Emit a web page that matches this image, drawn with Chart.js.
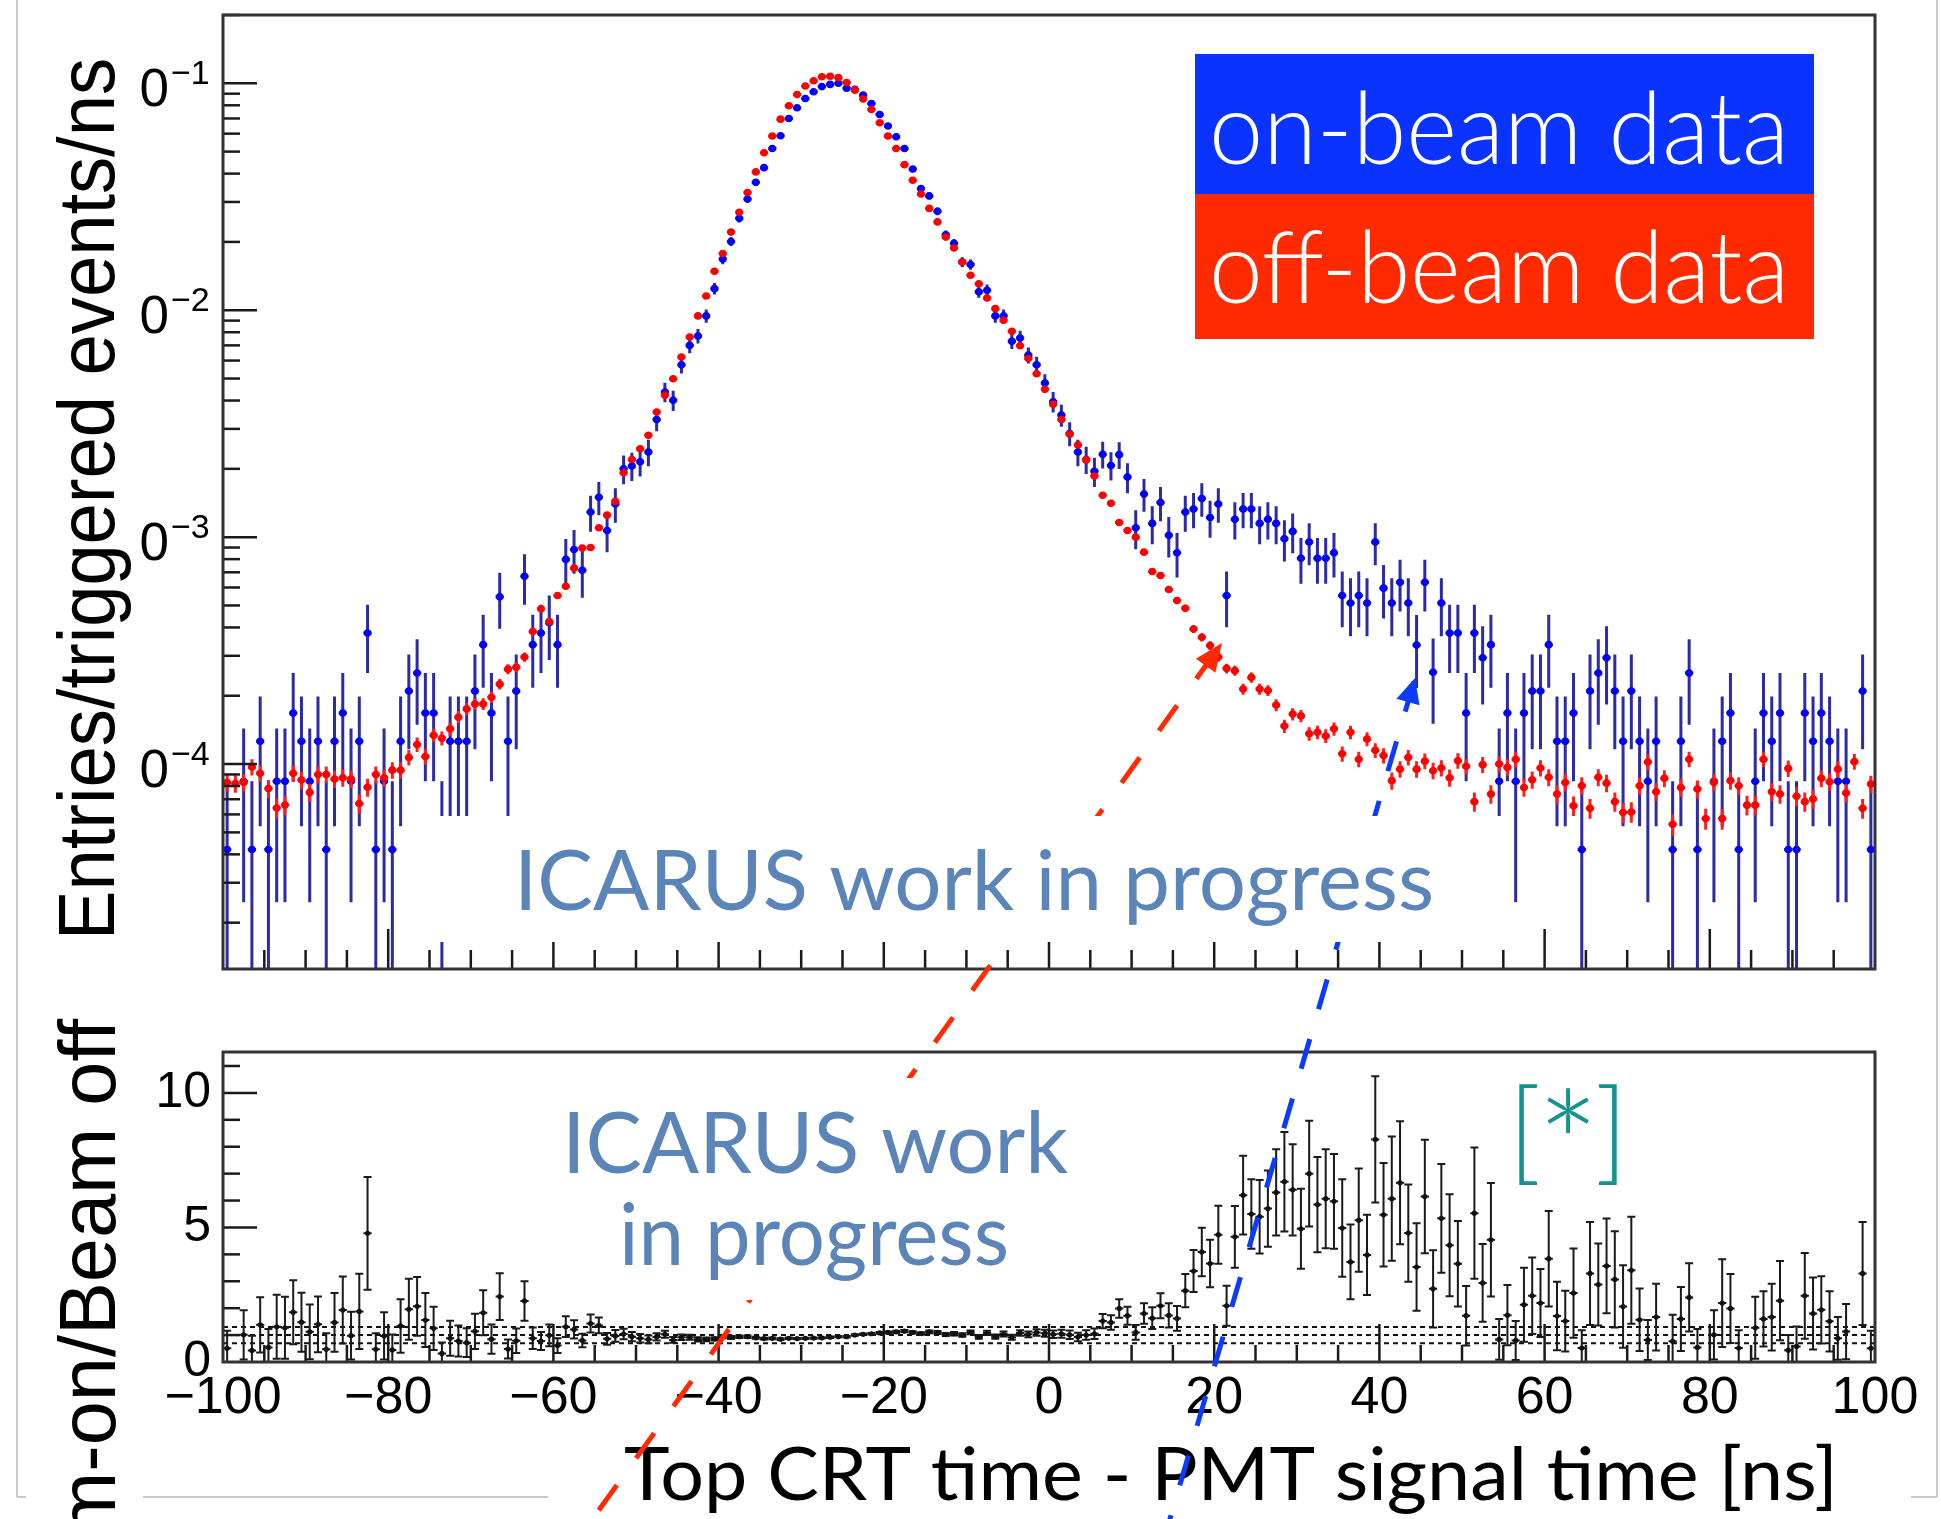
<!DOCTYPE html>
<html lang="en">
<head>
<meta charset="UTF-8">
<title>ICARUS top CRT - PMT timing</title>
<script src="https://cdn.jsdelivr.net/npm/chart.js@4.4.1/dist/chart.umd.min.js"></script>
<style>
  html, body { margin: 0; padding: 0; background: #fff; }
  #page { position: relative; width: 1941px; height: 1519px; overflow: hidden; }
  #page canvas { position: absolute; left: 0; }
</style>
</head>
<body>
<div id="page">
  <canvas id="spectrum" width="1941" height="1000" style="top:0"></canvas>
  <canvas id="ratioPanel" width="1941" height="519" style="top:1000px"></canvas>
  <canvas id="overlay" width="1941" height="1519" style="top:0"></canvas>
</div>
<script>
// 1 ns bins from -100 to 100 ns
const binCenters = [];
for (let i = 0; i < 200; i++) binCenters.push(-99.5 + i);

// off-beam data, entries/triggered events/ns
const offBeam = [
  8.3e-5, 8.2e-5, 8.3e-5, 9.7e-5, 9.1e-5, 7.8e-5, 6.4e-5, 6.6e-5, 9.1e-5, 8.5e-5,
  7.5e-5, 9.0e-5, 9.0e-5, 8.6e-5, 8.7e-5, 8.6e-5, 6.7e-5, 7.9e-5, 9.0e-5, 8.7e-5,
  9.4e-5, 9.4e-5, 1.07e-4, 1.22e-4, 1.08e-4, 1.34e-4, 1.30e-4, 1.43e-4, 1.61e-4, 1.75e-4,
  1.84e-4, 1.84e-4, 1.97e-4, 2.25e-4, 2.62e-4, 2.67e-4, 2.96e-4, 3.84e-4, 4.83e-4, 4.25e-4,
  5.53e-4, 6.08e-4, 7.3e-4, 8.95e-4, 9.0e-4, 1.10e-3, 1.25e-3, 1.44e-3, 1.92e-3, 2.20e-3,
  2.45e-3, 2.81e-3, 3.56e-3, 4.22e-3, 4.99e-3, 6.22e-3, 7.62e-3, 9.44e-3, 0.01156, 0.01486,
  0.01778, 0.0221, 0.0270, 0.0330, 0.0407, 0.0494, 0.0586, 0.0695, 0.0796, 0.0893,
  0.0973, 0.1026, 0.1069, 0.1075, 0.1059, 0.1009, 0.0933, 0.0853, 0.0767, 0.0670,
  0.0586, 0.0516, 0.0438, 0.0374, 0.0325, 0.0281, 0.0245, 0.0210, 0.0188, 0.0163,
  0.01426, 0.01309, 0.01132, 0.01016, 9.04e-3, 8.07e-3, 6.97e-3, 6.13e-3, 5.25e-3, 4.48e-3,
  3.85e-3, 3.30e-3, 2.84e-3, 2.55e-3, 2.19e-3, 1.86e-3, 1.53e-3, 1.41e-3, 1.16e-3, 1.07e-3,
  1.00e-3, 8.59e-4, 7.06e-4, 6.78e-4, 5.88e-4, 5.26e-4, 4.86e-4, 3.94e-4, 3.62e-4, 3.33e-4,
  2.96e-4, 2.64e-4, 2.58e-4, 2.14e-4, 2.41e-4, 2.14e-4, 2.11e-4, 1.82e-4, 1.47e-4, 1.66e-4,
  1.63e-4, 1.36e-4, 1.38e-4, 1.33e-4, 1.43e-4, 1.11e-4, 1.38e-4, 1.05e-4, 1.29e-4, 1.15e-4,
  1.09e-4, 8.45e-5, 9.5e-5, 1.07e-4, 9.5e-5, 1.03e-4, 9.35e-5, 9.6e-5, 8.7e-5, 1.035e-4,
  9.77e-5, 6.83e-5, 9.94e-5, 7.38e-5, 1.0e-4, 9.67e-5, 1.05e-4, 7.89e-5, 8.53e-5, 9.6e-5,
  8.74e-5, 7.38e-5, 8.3e-5, 6.55e-5, 8.03e-5, 6.38e-5, 8.74e-5, 8.24e-5, 6.83e-5, 6.12e-5,
  6.15e-5, 8.03e-5, 1.02e-4, 7.55e-5, 8.65e-5, 5.43e-5, 7.89e-5, 1.05e-4, 7.76e-5, 5.75e-5,
  8.3e-5, 5.75e-5, 8.45e-5, 8.03e-5, 6.59e-5, 6.59e-5, 1.05e-4, 7.55e-5, 7.38e-5, 9.57e-5,
  7.21e-5, 6.83e-5, 7.01e-5, 8.65e-5, 8.36e-5, 9.5e-5, 7.45e-5, 1.025e-4, 6.38e-5, 8.16e-5
];

// on-beam data (null = empty bin)
const onBeam = [
  4.2e-5, null, 8.4e-5, 4.2e-5, 1.26e-4, 4.2e-5, 8.4e-5, 8.4e-5, 1.68e-4, 1.26e-4,
  8.4e-5, 1.26e-4, 4.2e-5, 1.26e-4, 1.68e-4, 8.4e-5, 1.26e-4, 3.78e-4, 4.2e-5, 8.4e-5,
  4.2e-5, 1.26e-4, 2.1e-4, 2.52e-4, 1.68e-4, 1.68e-4, 4.2e-5, 1.26e-4, 1.26e-4, 1.26e-4,
  2.1e-4, 3.36e-4, 1.68e-4, 5.46e-4, 1.26e-4, 2.1e-4, 6.72e-4, 3.36e-4, 3.78e-4, 4.2e-4,
  3.36e-4, 7.98e-4, 8.82e-4, 7.14e-4, 1.29e-3, 1.50e-3, 1.07e-3, 1.40e-3, 2.0e-3, 2.06e-3,
  2.15e-3, 2.37e-3, 3.3e-3, 4.36e-3, 4.01e-3, 5.75e-3, 7.0e-3, 7.7e-3, 9.44e-3, 0.01245,
  0.0168, 0.0201, 0.0254, 0.0309, 0.0366, 0.0425, 0.0516, 0.0587, 0.0700, 0.0780,
  0.0857, 0.0918, 0.0967, 0.0989, 0.1000, 0.0951, 0.0940, 0.0887, 0.0815, 0.0729,
  0.0648, 0.0581, 0.0516, 0.0419, 0.0344, 0.0319, 0.0273, 0.0215, 0.0197, 0.0163,
  0.0159, 0.01205, 0.01225, 9.44e-3, 9.44e-3, 7.3e-3, 7.55e-3, 6.34e-3, 5.75e-3, 4.78e-3,
  3.95e-3, 3.45e-3, 2.86e-3, 2.37e-3, 2.2e-3, 1.95e-3, 2.32e-3, 2.07e-3, 2.31e-3, 1.84e-3,
  1.10e-3, 1.55e-3, 1.15e-3, 1.42e-3, 1.02e-3, 8.53e-4, 1.29e-3, 1.33e-3, 1.48e-3, 1.22e-3,
  1.40e-3, 5.53e-4, 1.20e-3, 1.33e-3, 1.33e-3, 1.15e-3, 1.20e-3, 1.15e-3, 9.84e-4, 1.06e-3,
  8.07e-4, 9.51e-4, 8.07e-4, 8.07e-4, 8.53e-4, 5.53e-4, 5.13e-4, 5.53e-4, 5.13e-4, 9.51e-4,
  5.96e-4, 5.13e-4, 6.33e-4, 5.13e-4, 3.35e-4, 6.33e-4, 2.54e-4, 5.13e-4, 3.78e-4, 3.78e-4,
  1.68e-4, 3.78e-4, 2.94e-4, 3.36e-4, 8.4e-5, 1.68e-4, 8.4e-5, 1.68e-4, 2.1e-4, 2.1e-4,
  3.36e-4, 1.26e-4, 1.26e-4, 1.68e-4, 4.2e-5, 2.1e-4, 2.52e-4, 2.94e-4, 2.1e-4, 1.26e-4,
  2.1e-4, 1.26e-4, 8.4e-5, 1.26e-4, null, 4.2e-5, 1.26e-4, 2.52e-4, 4.2e-5, null,
  8.4e-5, 1.26e-4, 1.68e-4, 4.2e-5, null, 8.4e-5, 1.68e-4, 1.26e-4, 1.68e-4, 4.2e-5,
  4.2e-5, 1.68e-4, 1.26e-4, 1.68e-4, 1.26e-4, 8.4e-5, 8.4e-5, null, 2.1e-4, 4.2e-5
];

// beam-on / beam-off ratio (lower panel)
const ratio = [
  0.51, null, 1.01, 0.43, 1.38, 0.54, 1.31, 1.27, 1.85, 1.48,
  1.12, 1.40, 0.47, 1.47, 1.93, 0.98, 1.88, 4.78, 0.47, 0.97,
  0.45, 1.34, 1.96, 2.07, 1.56, 1.25, 0.32, 0.88, 0.78, 0.72,
  1.14, 1.83, 0.85, 2.43, 0.48, 0.79, 2.27, 0.88, 0.78, 0.99,
  0.61, 1.31, 1.21, 0.80, 1.43, 1.36, 0.86, 0.97, 1.04, 0.94,
  0.88, 0.84, 0.93, 1.03, 0.82, 0.92, 0.92, 0.84, 0.84, 0.86,
  0.94, 0.91, 0.94, 0.94, 0.90, 0.87, 0.88, 0.85, 0.88, 0.87,
  0.88, 0.89, 0.90, 0.92, 0.94, 0.94, 1.00, 1.03, 1.05, 1.08,
  1.10, 1.12, 1.15, 1.10, 1.06, 1.12, 1.10, 1.02, 1.05, 1.00,
  1.10, 0.93, 1.08, 0.94, 1.04, 0.92, 1.08, 1.03, 1.10, 1.07,
  1.03, 1.05, 1.01, 0.93, 1.00, 1.05, 1.52, 1.47, 1.99, 1.72,
  1.10, 1.80, 1.63, 2.09, 1.73, 1.62, 2.65, 3.38, 4.09, 3.66,
  4.73, 2.09, 4.65, 6.2, 5.5, 5.4, 5.7, 6.3, 6.7, 6.4,
  4.95, 7.0, 5.85, 6.07, 5.97, 4.98, 3.72, 5.27, 3.98, 8.27,
  5.47, 6.07, 6.66, 4.79, 3.53, 6.15, 2.72, 5.34, 4.34, 3.65,
  1.72, 5.53, 2.94, 4.54, 0.84, 1.74, 0.80, 2.13, 2.46, 2.19,
  3.84, 1.71, 1.52, 2.56, 0.52, 3.29, 2.88, 3.57, 3.07, 2.06,
  3.41, 1.57, 0.82, 1.67, null, 0.77, 1.60, 2.40, 0.54, null,
  1.01, 2.19, 1.99, 0.52, null, 1.27, 1.60, 1.67, 2.28, 0.44,
  0.58, 2.46, 1.80, 1.94, 1.51, 0.88, 1.13, null, 3.29, 0.51
];
const ratioRefLines = [0.7, 1.0, 1.3];

// size of one entry in each histogram, used for the Poisson error bars
const ON_UNIT = 4.2e-5;
const OFF_UNIT = 6.5e-7;

const decadeTicks = [1e-1, 1e-2, 1e-3, 1e-4];
const decadeLabels = ['\u22121', '\u22122', '\u22123', '\u22124'];
const timeTicks = [-100, -80, -60, -40, -20, 0, 20, 40, 60, 80, 100];
const timeLabels = ['\u2212100', '\u221280', '\u221260', '\u221240', '\u221220', '0', '20', '40', '60', '80', '100'];
const ratioTicks = [0, 5, 10];

const onErr = onBeam.map(v => v == null ? null : Math.sqrt(v * ON_UNIT));
const offErr = offBeam.map(v => Math.sqrt(v * OFF_UNIT));
const ratioErr = ratio.map((r, i) => r == null ? null :
  1.27 * r * Math.sqrt(ON_UNIT / onBeam[i] + OFF_UNIT / offBeam[i]));

const TICK_FONT = '"Liberation Sans", Arial, Helvetica, sans-serif';

// vertical + horizontal (bin width) error bars, drawn under each dataset's markers
const errorBars = {
  id: 'errorBars',
  beforeDatasetDraw(chart, args) {
    const ds = chart.data.datasets[args.index];
    if (!ds.errors) return;
    const { ctx, chartArea: a } = chart;
    const x = chart.scales.x, y = chart.scales.y;
    ctx.save();
    ctx.beginPath();
    ctx.rect(a.left, a.top, a.right - a.left, a.bottom - a.top);
    ctx.clip();
    ctx.strokeStyle = ds.barColor;
    ctx.lineWidth = ds.barWidth;
    ds.data.forEach((p, i) => {
      if (p.y == null) return;
      const e = ds.errors[i];
      const px = x.getPixelForValue(p.x);
      const py = y.getPixelForValue(p.y);
      const top = y.getPixelForValue(p.y + e);
      const lo = p.y - e;
      const bot = lo > y.min ? y.getPixelForValue(lo) : a.bottom + 5;
      ctx.beginPath();
      ctx.moveTo(px, top); ctx.lineTo(px, bot);
      const x0 = x.getPixelForValue(p.x - 0.5), x1 = x.getPixelForValue(p.x + 0.5);
      ctx.moveTo(x0, py); ctx.lineTo(x1, py);
      if (ds.capHalf) {
        ctx.moveTo(px - ds.capHalf, top); ctx.lineTo(px + ds.capHalf, top);
        if (lo > y.min) { ctx.moveTo(px - ds.capHalf, bot); ctx.lineTo(px + ds.capHalf, bot); }
      }
      ctx.stroke();
    });
    ctx.restore();
  }
};

function tickLine(ctx, x0, y0, x1, y1) {
  ctx.beginPath(); ctx.moveTo(x0, y0); ctx.lineTo(x1, y1); ctx.stroke();
}

const spectrumAxes = {
  id: 'spectrumAxes',
  afterDraw(chart) {
    const { ctx, chartArea: a } = chart;
    const x = chart.scales.x, y = chart.scales.y;
    ctx.save();
    ctx.strokeStyle = '#1a1a1a';
    ctx.lineWidth = 2.5;
    for (let t = -95; t < 100; t += 5) {
      const px = x.getPixelForValue(t);
      tickLine(ctx, px, a.bottom, px, a.bottom - (t % 20 === 0 ? 40 : 19));
    }
    for (let d = 1e-5; d < 1; d *= 10) {
      for (let m = 1; m <= 9; m++) {
        const v = m * d;
        if (v < y.min || v > y.max) continue;
        const py = y.getPixelForValue(v);
        tickLine(ctx, a.left, py, a.left + (m === 1 ? 34 : 17), py);
      }
    }
    ctx.strokeStyle = '#333';
    ctx.lineWidth = 3;
    ctx.strokeRect(a.left, a.top, a.right - a.left, a.bottom - a.top);
    ctx.fillStyle = '#000';
    decadeTicks.forEach((v, i) => {
      const py = y.getPixelForValue(v);
      ctx.font = '53px ' + TICK_FONT;
      ctx.textAlign = 'right';
      ctx.textBaseline = 'alphabetic';
      ctx.fillText('0', 169, py + 23);
      ctx.font = '34px ' + TICK_FONT;
      ctx.textAlign = 'left';
      ctx.fillText(decadeLabels[i], 171, py + 1);
    });
    ctx.restore();
  }
};

const ratioAxes = {
  id: 'ratioAxes',
  beforeDatasetsDraw(chart) {
    const { ctx, chartArea: a } = chart;
    const y = chart.scales.y;
    ctx.save();
    ctx.strokeStyle = '#111';
    ctx.lineWidth = 2;
    ctx.setLineDash([5, 4]);
    ratioRefLines.forEach(v => {
      const py = y.getPixelForValue(v);
      tickLine(ctx, a.left, py, a.right, py);
    });
    ctx.restore();
  },
  afterDraw(chart) {
    const { ctx, chartArea: a } = chart;
    const x = chart.scales.x, y = chart.scales.y;
    ctx.save();
    ctx.strokeStyle = '#1a1a1a';
    ctx.lineWidth = 2.5;
    for (let t = -95; t < 100; t += 5) {
      const px = x.getPixelForValue(t);
      tickLine(ctx, px, a.bottom, px, a.bottom - (t % 20 === 0 ? 38 : 17));
    }
    for (let v = 1; v <= 11; v++) {
      const py = y.getPixelForValue(v);
      tickLine(ctx, a.left, py, a.left + (v % 5 === 0 ? 34 : 17), py);
    }
    ctx.strokeStyle = '#333';
    ctx.lineWidth = 3;
    ctx.strokeRect(a.left, a.top, a.right - a.left, a.bottom - a.top);
    ctx.fillStyle = '#000';
    ctx.font = '50px ' + TICK_FONT;
    ctx.textAlign = 'right';
    ctx.textBaseline = 'middle';
    ratioTicks.forEach(v => ctx.fillText(String(v), 211, y.getPixelForValue(v)));
    ctx.font = '52px ' + TICK_FONT;
    ctx.textAlign = 'center';
    ctx.textBaseline = 'alphabetic';
    timeTicks.forEach((t, i) => ctx.fillText(timeLabels[i], x.getPixelForValue(t), a.bottom + 51));
    ctx.restore();
  }
};

const points = (vals) => binCenters.map((c, i) => ({ x: c, y: vals[i] }));

new Chart(document.getElementById('spectrum'), {
  type: 'scatter',
  data: {
    datasets: [
      {
        label: 'off-beam data',
        data: points(offBeam),
        errors: offErr,
        barColor: '#ff1e1e',
        barWidth: 3,
        pointRadius: 3.8,
        pointBorderWidth: 0,
        pointBackgroundColor: '#ff0000'
      },
      {
        label: 'on-beam data',
        data: points(onBeam),
        errors: onErr,
        barColor: '#2b2ba6',
        barWidth: 3,
        pointRadius: 3.8,
        pointBorderWidth: 0,
        pointBackgroundColor: '#0000ff'
      }
    ]
  },
  options: {
    responsive: false,
    animation: false,
    events: [],
    layout: { padding: { left: 223, right: 66, top: 15, bottom: 31 } },
    plugins: { legend: { display: false }, tooltip: { enabled: false } },
    scales: {
      x: { type: 'linear', min: -100, max: 100, display: false },
      y: { type: 'logarithmic', min: 1.25e-5, max: 0.2, display: false }
    }
  },
  plugins: [errorBars, spectrumAxes]
});

new Chart(document.getElementById('ratioPanel'), {
  type: 'scatter',
  data: {
    datasets: [{
      label: 'Beam-on/Beam off',
      data: points(ratio),
      errors: ratioErr,
      barColor: '#1a1a1a',
      barWidth: 2,
      capHalf: 4,
      pointRadius: 2.6,
      pointBorderWidth: 0,
      pointBackgroundColor: '#111'
    }]
  },
  options: {
    responsive: false,
    animation: false,
    events: [],
    layout: { padding: { left: 223, right: 66, top: 52, bottom: 157 } },
    plugins: { legend: { display: false }, tooltip: { enabled: false } },
    scales: {
      x: { type: 'linear', min: -100, max: 100, display: false },
      y: { type: 'linear', min: 0, max: 11.52, display: false }
    }
  },
  plugins: [errorBars, ratioAxes]
});

// ---- annotations on top of both panels ----
const ov = document.getElementById('overlay').getContext('2d');

// draws text squeezed/stretched to a given width, starting at x
function fitText(ctx, text, x, y, width, font) {
  ctx.font = font;
  const w = ctx.measureText(text).width;
  ctx.save();
  ctx.translate(x, y);
  ctx.scale(width / w, 1);
  ctx.textAlign = 'left';
  ctx.fillText(text, 0, 0);
  ctx.restore();
}

function dashedArrow(ctx, tip, tail, color, dash, offset, headLen, headHalf) {
  ctx.save();
  ctx.strokeStyle = color;
  ctx.fillStyle = color;
  ctx.lineWidth = 5;
  ctx.setLineDash(dash);
  ctx.lineDashOffset = offset;
  ctx.beginPath();
  ctx.moveTo(tip[0], tip[1]);
  ctx.lineTo(tail[0], tail[1]);
  ctx.stroke();
  ctx.setLineDash([]);
  const dx = tail[0] - tip[0], dy = tail[1] - tip[1];
  const L = Math.hypot(dx, dy), ux = dx / L, uy = dy / L;
  const bx = tip[0] + ux * headLen, by = tip[1] + uy * headLen;
  ctx.beginPath();
  ctx.moveTo(tip[0], tip[1]);
  ctx.lineTo(bx - uy * headHalf, by + ux * headHalf);
  ctx.lineTo(bx + uy * headHalf, by - ux * headHalf);
  ctx.closePath();
  ctx.fill();
  ctx.restore();
}

// slide frame remnants
ov.strokeStyle = '#c9c9c9';
ov.lineWidth = 2;
tickLine(ov, 17, 0, 17, 1497);
tickLine(ov, 17, 1497, 26, 1497);
tickLine(ov, 143, 1497, 548, 1497);
tickLine(ov, 1937, 0, 1937, 1497);
tickLine(ov, 1911, 1497, 1937, 1497);

// axis titles
ov.fillStyle = '#000';
ov.textBaseline = 'alphabetic';
ov.font = '80px ' + TICK_FONT;
const yTitle = 'Entries/triggered events/ns';
const yScale = 882 / ov.measureText(yTitle).width;
ov.save();
ov.translate(114, 940);
ov.rotate(-Math.PI / 2);
ov.scale(yScale, 1);
ov.textAlign = 'left';
ov.fillText(yTitle, 0, 0);
ov.restore();
ov.save();
ov.translate(115, 1019);
ov.rotate(-Math.PI / 2);
ov.scale(yScale * 1.07, 1);
ov.textAlign = 'right';
ov.fillText('Beam-on/Beam off', 0, 0);
ov.restore();

fitText(ov, 'Top CRT time - PMT signal time [ns]', 624, 1500, 1214, '74px Lato, "Open Sans", sans-serif');

// arrows from the bottom of the slide to the two timing peaks
dashedArrow(ov, [1222, 643], [563, 1560], '#ff2a00', [31, 33], 51, 28, 12);
dashedArrow(ov, [1415, 678], [1158, 1560], '#0b3bff', [31, 31], 58, 25, 12);

// "work in progress" labels on white boxes
ov.fillStyle = '#fff';
ov.fillRect(430, 816, 1075, 126);
ov.fillRect(540, 1078, 550, 222);
ov.fillStyle = '#5b85b8';
fitText(ov, 'ICARUS work in progress', 514, 910, 920, '83px Lato, "Open Sans", sans-serif');
fitText(ov, 'ICARUS work', 562, 1173, 506, '86px Lato, "Open Sans", sans-serif');
fitText(ov, 'in progress', 619, 1265, 390, '86px Lato, "Open Sans", sans-serif');

// legend
ov.fillStyle = '#0a33ff';
ov.fillRect(1195, 54, 619, 140);
ov.fillStyle = '#ff2a00';
ov.fillRect(1195, 194, 619, 145);
ov.fillStyle = '#fff';
fitText(ov, 'on-beam data', 1209, 164, 580, '300 100px Lato, "Open Sans", sans-serif');
fitText(ov, 'off-beam data', 1209, 303, 580, '300 100px Lato, "Open Sans", sans-serif');

// footnote marker [*]: brackets and a large asterisk
ov.fillStyle = '#12958f';
ov.font = '300 112px Lato, "Open Sans", sans-serif';
ov.textAlign = 'left';
ov.fillText('[', 1508, 1170);
ov.textAlign = 'right';
ov.fillText(']', 1628, 1170);
ov.textAlign = 'center';
ov.font = '300 150px Lato, "Open Sans", sans-serif';
ov.fillText('*', 1568, 1200);
</script>
</body>
</html>
